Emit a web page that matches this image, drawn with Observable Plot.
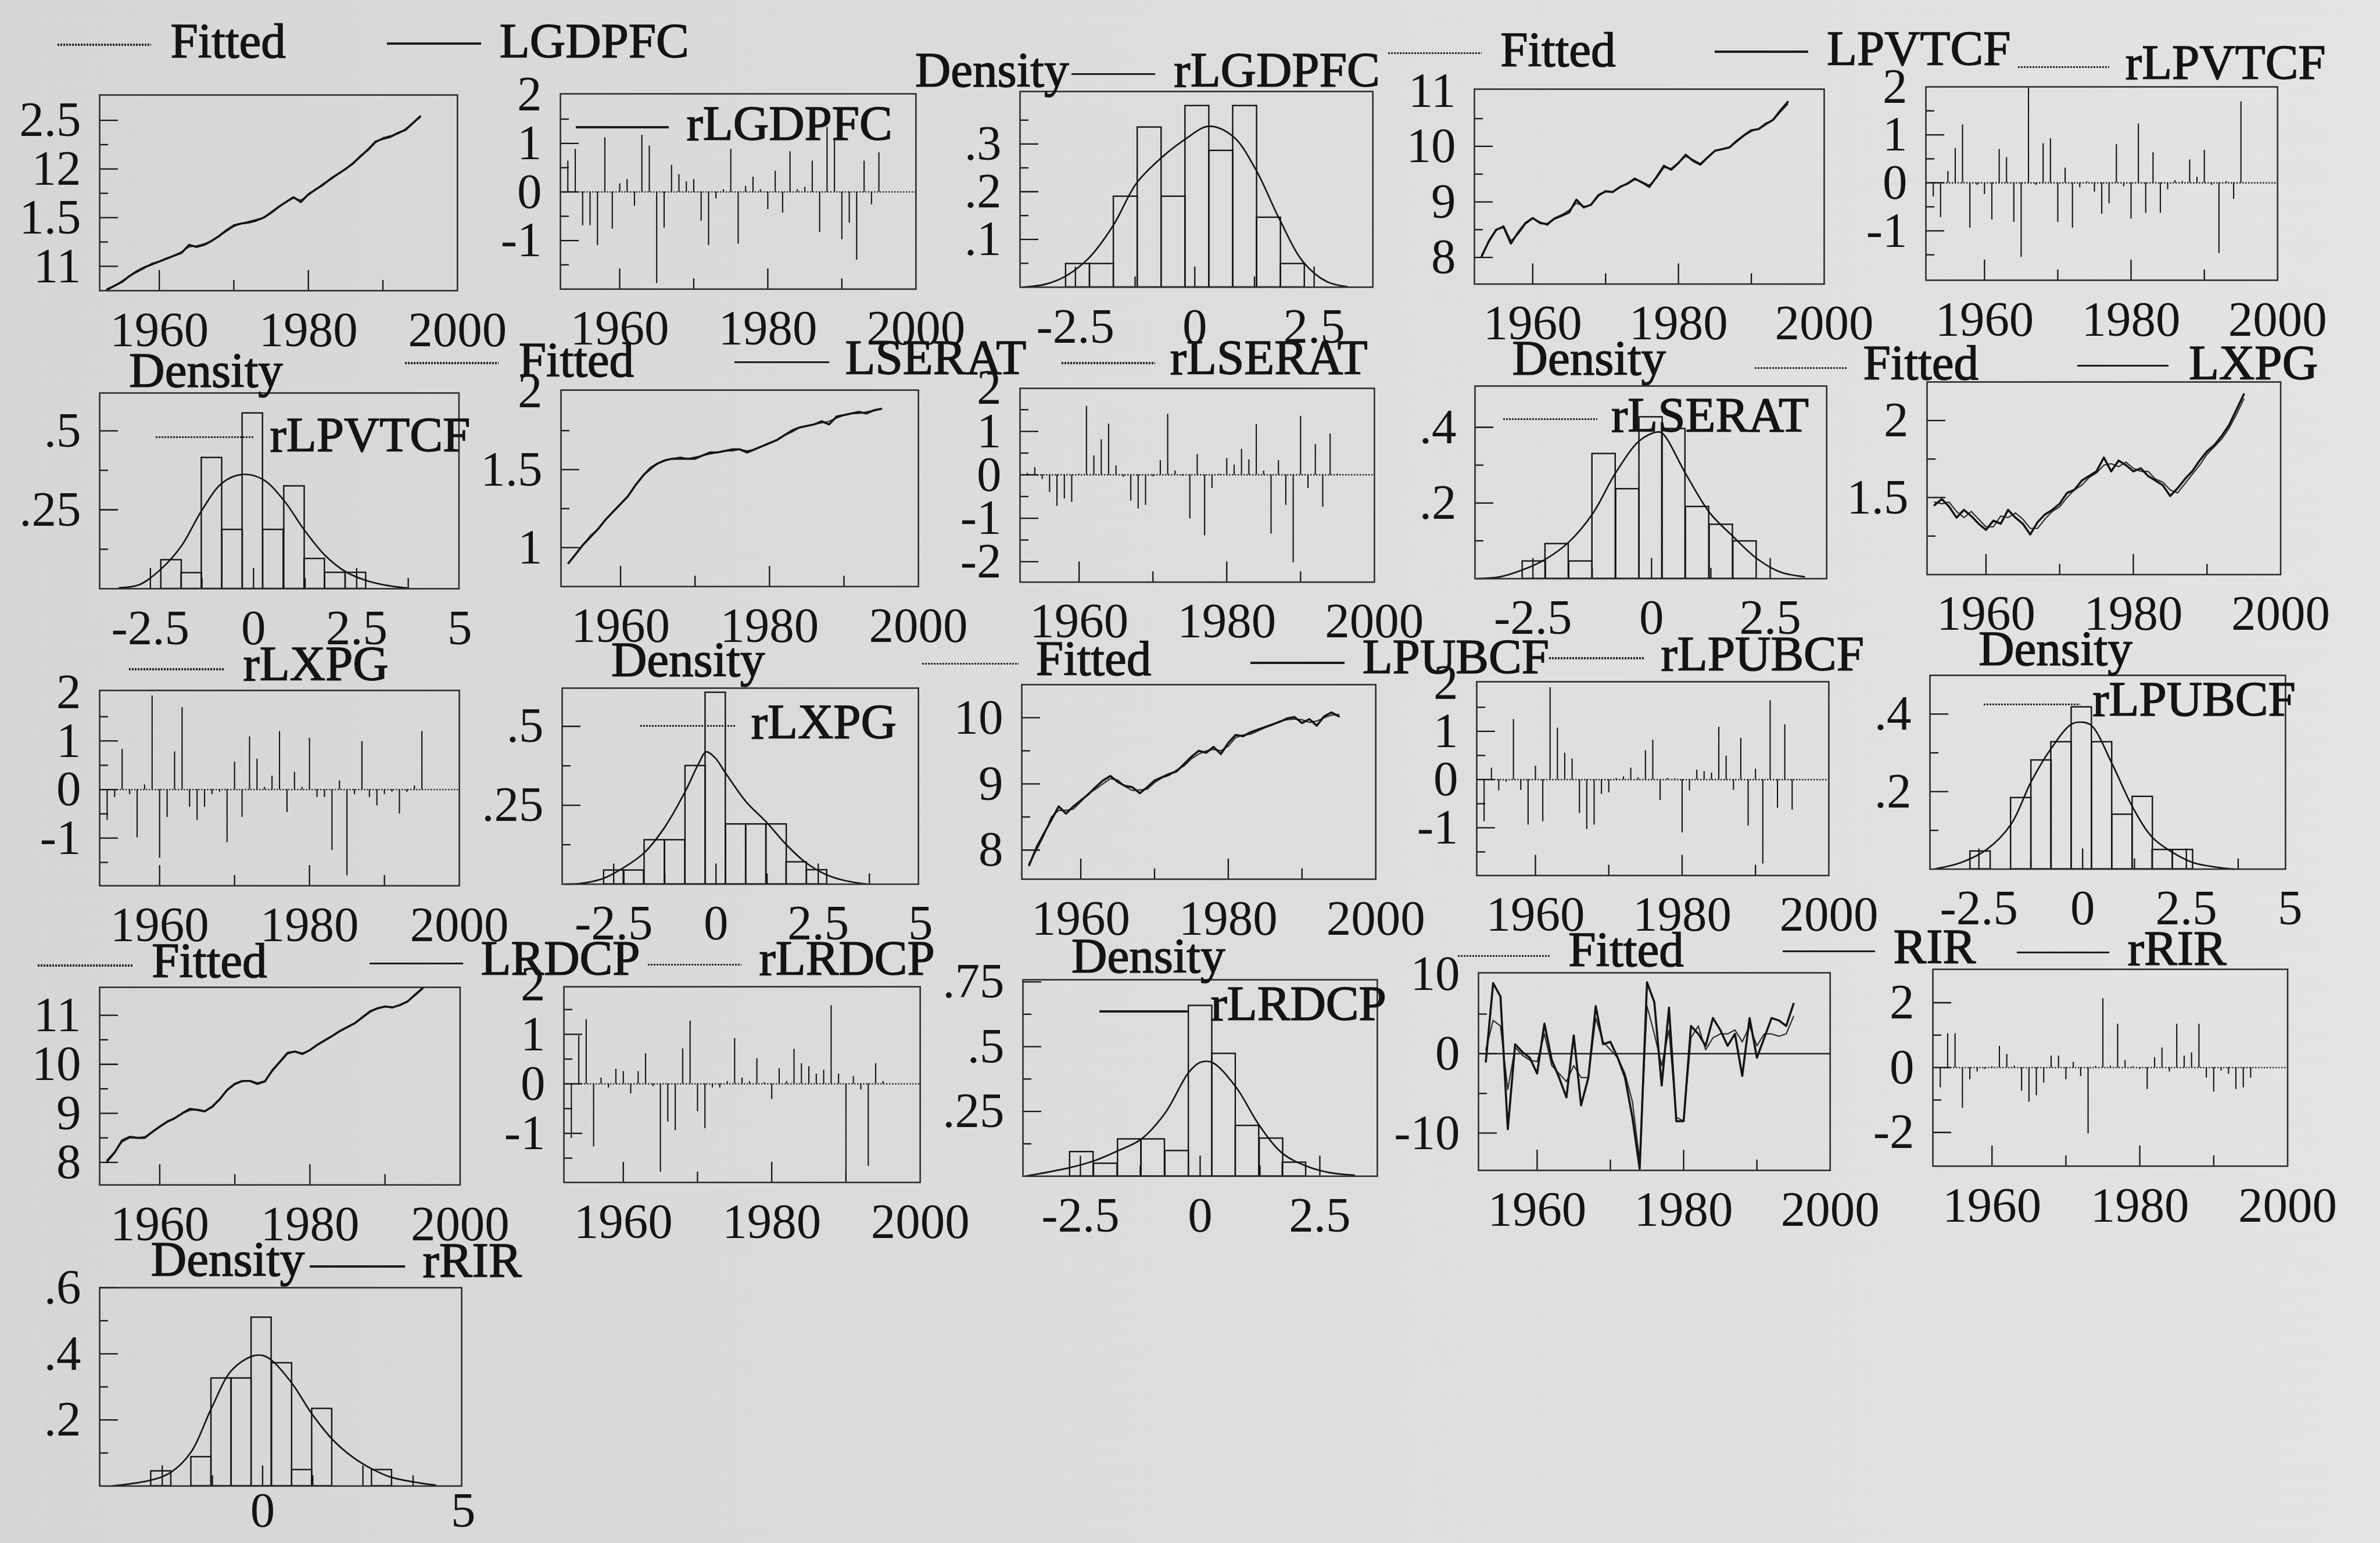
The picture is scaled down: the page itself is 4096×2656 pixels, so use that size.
<!DOCTYPE html>
<html><head><meta charset="utf-8">
<script src="https://cdn.jsdelivr.net/npm/d3@7"></script>
<script src="https://cdn.jsdelivr.net/npm/@observablehq/plot@0.6"></script>
<style>
html,body{margin:0;padding:0;background:#dcdcdc;}
#page{position:relative;width:4096px;height:2656px;overflow:hidden;
  background:linear-gradient(90deg,#d6d6d6 0%,#dddddd 50%,#e3e3e3 100%);
  font-family:"Liberation Serif","Times New Roman",serif;color:#141414;}
.panel{position:absolute;}
.panel svg{overflow:visible;display:block;}
.lg{position:absolute;font-size:85px;line-height:85px;white-space:nowrap;color:#141414;-webkit-text-stroke:1.6px #141414;}
.ln{position:absolute;}
</style></head><body><div id="page"></div><script>
// ---------------- data ----------------
const years = [1953,1954,1955,1956,1957,1958,1959,1960,1961,1962,1963,1964,1965,1966,1967,1968,1969,1970,1971,1972,1973,1974,1975,1976,1977,1978,1979,1980,1981,1982,1983,1984,1985,1986,1987,1988,1989,1990,1991,1992,1993,1994,1995];

const LGDPFC    = [10.76,10.80,10.84,10.90,10.95,10.99,11.02,11.05,11.08,11.11,11.14,11.22,11.20,11.22,11.26,11.31,11.37,11.42,11.44,11.45,11.47,11.50,11.55,11.61,11.66,11.71,11.66,11.74,11.79,11.84,11.90,11.95,12.00,12.06,12.13,12.20,12.28,12.31,12.33,12.37,12.40,12.47,12.54];
const fitLGDPFC = [10.77,10.80,10.85,10.90,10.94,10.98,11.03,11.05,11.08,11.11,11.15,11.20,11.21,11.23,11.26,11.31,11.36,11.41,11.44,11.46,11.48,11.50,11.56,11.61,11.66,11.70,11.68,11.73,11.79,11.85,11.89,11.95,12.00,12.05,12.14,12.19,12.27,12.32,12.34,12.36,12.41,12.47,12.53];
const rLGDPFC   = [0.64,0.88,-0.69,-0.69,-1.10,1.12,-0.76,0.17,0.26,-0.29,1.17,0.95,-1.88,-0.74,0.55,0.36,0.21,0.26,-0.60,-1.10,-0.14,0.05,0.88,-1.07,0.12,0.31,0.05,-0.36,0.43,-0.43,0.83,0.05,0.10,0.64,-0.83,1.33,1.07,-0.98,-0.64,-1.40,0.64,-0.26,0.81];

const LPVTCF    = [8.02,8.30,8.50,8.55,8.25,8.45,8.62,8.71,8.62,8.60,8.70,8.75,8.81,9.04,8.90,8.95,9.12,9.19,9.18,9.27,9.33,9.42,9.35,9.27,9.45,9.65,9.58,9.70,9.85,9.74,9.67,9.80,9.92,9.95,9.98,10.10,10.20,10.29,10.31,10.40,10.48,10.65,10.80];
const fitLPVTCF = [8.05,8.28,8.49,8.57,8.30,8.42,8.60,8.70,8.64,8.58,8.71,8.77,8.85,8.98,8.92,8.94,9.10,9.20,9.17,9.28,9.32,9.40,9.36,9.30,9.43,9.62,9.60,9.71,9.82,9.76,9.69,9.81,9.92,9.95,9.99,10.08,10.19,10.27,10.32,10.42,10.47,10.62,10.76];
const rLPVTCF   = [-0.29,-0.72,0.24,0.72,1.21,-0.94,-0.05,-0.24,-0.77,0.70,0.53,-0.82,-1.55,1.99,-0.05,0.82,0.92,-0.82,0.31,-0.94,-0.10,0.02,-0.19,-0.65,-0.43,0.80,-0.08,-0.75,1.23,-0.63,0.63,-0.63,-0.14,0.05,0.03,0.48,0.12,0.68,-0.05,-1.47,0.03,-0.34,1.69];

const LSERAT    = [0.90,0.96,1.02,1.07,1.12,1.18,1.23,1.28,1.33,1.40,1.46,1.51,1.54,1.56,1.57,1.57,1.57,1.57,1.59,1.61,1.61,1.62,1.63,1.63,1.61,1.63,1.65,1.67,1.69,1.72,1.75,1.77,1.78,1.79,1.81,1.79,1.84,1.85,1.86,1.87,1.86,1.88,1.89];
const fitLSERAT = [0.90,0.96,1.02,1.08,1.12,1.18,1.23,1.28,1.33,1.40,1.46,1.50,1.54,1.56,1.57,1.58,1.57,1.58,1.59,1.60,1.61,1.62,1.62,1.63,1.62,1.63,1.65,1.67,1.69,1.72,1.74,1.77,1.78,1.79,1.80,1.81,1.83,1.85,1.86,1.86,1.87,1.88,1.89];
const rLSERAT   = [0.04,0.17,-0.10,-0.40,-0.72,-0.55,-0.63,0.02,1.58,0.44,0.81,1.17,0.21,-0.05,-0.60,-0.78,-0.70,-0.04,0.33,1.40,0.09,-0.03,-1.01,0.47,-1.40,-0.31,0.02,0.38,0.23,0.59,0.35,1.16,0.09,-1.36,0.33,-0.70,-2.02,1.35,-0.31,0.70,-0.74,0.94,0.02];

const LXPG      = [1.45,1.49,1.44,1.37,1.42,1.38,1.33,1.29,1.35,1.33,1.42,1.37,1.33,1.26,1.34,1.39,1.42,1.46,1.53,1.55,1.61,1.64,1.67,1.76,1.67,1.74,1.71,1.67,1.69,1.64,1.61,1.58,1.51,1.56,1.62,1.67,1.74,1.80,1.84,1.90,1.97,2.07,2.17];
const fitLXPG   = [1.47,1.46,1.47,1.41,1.37,1.41,1.36,1.31,1.31,1.38,1.37,1.40,1.36,1.30,1.30,1.36,1.41,1.44,1.50,1.55,1.58,1.63,1.66,1.71,1.72,1.70,1.73,1.69,1.67,1.67,1.62,1.60,1.55,1.53,1.59,1.65,1.71,1.78,1.83,1.88,1.95,2.04,2.14];
const rLXPG     = [-0.63,-0.16,0.83,-0.10,-0.99,0.10,1.93,-1.41,-0.57,0.78,1.69,-0.36,-0.63,-0.36,-0.10,-0.05,-1.09,0.57,-0.57,1.09,0.63,0.05,0.28,1.20,-0.47,0.36,0.05,1.06,-0.16,-0.16,-1.25,0.18,-1.77,-0.10,0.99,-0.16,-0.33,-0.10,-0.05,-0.50,-0.05,0.08,1.20];

const LPUBCF    = [7.77,8.04,8.25,8.45,8.66,8.55,8.66,8.75,8.84,8.95,9.05,9.12,9.03,8.97,8.95,8.86,8.95,9.05,9.10,9.15,9.19,9.30,9.41,9.50,9.47,9.56,9.45,9.62,9.74,9.72,9.78,9.82,9.86,9.90,9.94,9.99,10.01,9.92,9.98,9.88,10.02,10.08,10.02];
const fitLPUBCF = [7.80,8.00,8.22,8.50,8.60,8.60,8.62,8.73,8.85,8.92,9.00,9.08,9.06,8.96,8.90,8.91,8.92,9.02,9.09,9.13,9.21,9.27,9.38,9.45,9.50,9.52,9.50,9.57,9.70,9.74,9.75,9.80,9.85,9.89,9.95,9.97,9.98,9.97,9.93,9.95,10.00,10.04,10.05];
const rLPUBCF   = [-0.87,0.24,-0.23,-0.05,1.25,-0.22,-0.94,0.28,-0.87,1.91,1.07,0.55,0.43,-0.70,-1.03,-0.94,-0.30,-0.27,0.03,0.06,0.24,0.04,0.60,0.82,-0.43,0.03,0.02,-1.10,-0.23,0.20,0.17,0.14,1.09,0.49,-0.22,0.86,-0.96,0.22,-1.75,1.64,-0.59,1.14,-0.63];

const LRDCP     = [8.02,8.20,8.45,8.52,8.50,8.50,8.62,8.73,8.83,8.90,9.00,9.09,9.07,9.04,9.14,9.29,9.48,9.60,9.66,9.66,9.60,9.65,9.88,10.05,10.23,10.26,10.21,10.29,10.40,10.49,10.58,10.68,10.76,10.84,10.96,11.08,11.14,11.18,11.16,11.21,11.28,11.42,11.55];
const fitLRDCP  = [8.05,8.22,8.42,8.50,8.50,8.52,8.61,8.72,8.82,8.91,9.00,9.06,9.08,9.05,9.12,9.28,9.47,9.59,9.65,9.67,9.62,9.66,9.86,10.04,10.21,10.26,10.23,10.29,10.39,10.49,10.58,10.67,10.76,10.84,10.95,11.06,11.15,11.17,11.17,11.20,11.29,11.40,11.54];
const rLRDCP    = [-1.10,0.97,1.30,-1.27,0.12,-0.08,0.30,0.25,-0.20,0.25,0.61,-0.05,-1.78,-0.77,-0.94,0.71,1.27,-0.56,-0.90,-0.08,-0.08,0.05,0.92,0.12,0.05,0.51,0.03,-0.31,0.31,0.05,0.70,0.41,0.35,0.20,0.28,1.58,0.20,-1.94,0.15,-0.12,-1.66,0.41,0.05];

const RIR       = [-1.0,8.9,7.2,-9.5,1.2,0.2,-0.5,-2.5,3.8,-0.8,-3.0,-5.5,2.3,-6.5,-3.0,6.0,1.2,1.5,-0.5,-3.0,-8.0,-14.5,9.0,6.5,-4.0,5.8,-8.5,-8.5,3.5,2.5,1.0,4.5,3.0,1.0,2.5,-2.8,4.5,-0.5,2.0,4.5,4.2,3.5,6.3];
const fitRIR    = [0.5,4.2,3.5,-4.5,0.8,-0.2,-0.8,-1.0,2.5,-1.5,-2.5,-3.5,-1.5,-3.0,-3.0,4.5,1.5,0.5,-0.5,-2.5,-6.0,-13.5,6.0,2.5,-1.5,3.0,-8.0,-8.5,2.0,3.5,0.5,2.0,2.5,2.5,3.0,1.5,3.5,1.0,2.5,2.5,2.2,2.5,4.7];
const rRIR      = [-0.62,1.05,1.05,-1.25,-0.37,-0.13,-0.05,0.03,0.66,0.41,0.05,-0.72,-1.06,-0.86,-0.47,0.36,0.36,-0.37,0.17,-0.27,-2.04,0.04,2.13,0.05,1.34,0.22,0.03,-0.05,-0.67,0.31,0.61,-0.13,1.34,0.36,0.46,1.34,-0.32,-0.75,-0.10,-0.20,-0.67,-0.62,-0.32];

// histograms (bin left edges, bin heights) and density curves (x, y)
const binLGDPFC_x = [-2.7,-2.2,-1.7,-1.2,-0.7,-0.2,0.3,0.8,1.3,1.8];
const binLGDPFC_h = [0.049,0.049,0.19,0.335,0.19,0.38,0.286,0.38,0.146,0.049];
const kdeLGDPFC_x = [-3.6,-3.1,-2.69,-2.2,-1.71,-1.22,-0.69,-0.2,0.29,0.8,1.27,1.78,2.27,2.76,3.2];
const kdeLGDPFC_y = [0,0.007,0.024,0.063,0.129,0.218,0.272,0.31,0.337,0.316,0.248,0.141,0.053,0.012,0.001];

const binLPVTCF_x = [-2.24,-1.75,-1.26,-0.76,-0.27,0.23,0.74,1.23,1.73,2.23];
const binLPVTCF_h = [0.091,0.05,0.415,0.187,0.556,0.187,0.325,0.095,0.051,0.051];
const kdeLPVTCF_x = [-3.25,-2.76,-2.24,-1.75,-1.26,-0.76,-0.27,0.23,0.74,1.23,1.73,2.23,2.73,3.25,3.74];
const kdeLPVTCF_y = [0.003,0.013,0.0625,0.135,0.247,0.335,0.362,0.346,0.279,0.186,0.106,0.054,0.026,0.01,0.002];

const binLSERAT_x = [-2.72,-2.24,-1.74,-1.25,-0.75,-0.26,0.22,0.72,1.22,1.72];
const binLSERAT_h = [0.046,0.092,0.046,0.33,0.237,0.427,0.396,0.19,0.143,0.099];
const kdeLSERAT_x = [-3.68,-3.19,-2.72,-2.24,-1.74,-1.25,-0.75,-0.26,0.09,0.22,0.72,1.22,1.72,2.2,2.7,3.22];
const kdeLSERAT_y = [0,0.005,0.023,0.051,0.097,0.17,0.281,0.364,0.387,0.385,0.277,0.175,0.111,0.055,0.018,0.005];

const binLXPG_x = [-2.74,-2.26,-1.75,-1.25,-0.75,-0.26,0.24,0.73,1.23,1.72,2.22];
const binLXPG_h = [0.044,0.044,0.14,0.14,0.375,0.607,0.19,0.19,0.19,0.07,0.045];
const kdeLXPG_x = [-3.7,-3.27,-2.74,-2.26,-1.75,-1.25,-0.75,-0.42,-0.24,-0.02,0.24,0.73,1.23,1.72,2.2,2.7,3.2,3.7];
const kdeLXPG_y = [0,0.003,0.019,0.052,0.1,0.181,0.294,0.383,0.419,0.4,0.351,0.262,0.197,0.125,0.068,0.03,0.01,0];

const binLPUBCF_x = [-2.71,-1.73,-1.24,-0.76,-0.27,0.22,0.71,1.2,1.68,2.17];
const binLPUBCF_h = [0.046,0.184,0.281,0.328,0.418,0.328,0.141,0.187,0.05,0.05];
const kdeLPUBCF_x = [-3.54,-2.93,-2.32,-1.73,-1.24,-0.76,-0.27,0,0.22,0.71,1.2,1.68,2.17,2.66,3.29,3.66];
const kdeLPUBCF_y = [0.001,0.017,0.05,0.115,0.226,0.311,0.374,0.379,0.37,0.272,0.161,0.082,0.043,0.017,0.004,0];

const binLRDCP_x = [-2.72,-2.22,-1.72,-1.23,-0.73,-0.24,0.25,0.74,1.24,1.72];
const binLRDCP_h = [0.094,0.049,0.143,0.143,0.098,0.658,0.473,0.195,0.146,0.053];
const kdeLRDCP_x = [-3.65,-2.72,-2.22,-1.72,-1.23,-0.73,-0.24,0,0.25,0.74,1.24,1.72,2.22,2.7,3.22];
const kdeLRDCP_y = [0,0.033,0.059,0.098,0.143,0.244,0.4,0.439,0.439,0.346,0.195,0.088,0.039,0.014,0.004];

const binRIR_x = [-2.78,-1.78,-1.28,-0.78,-0.28,0.23,0.73,1.23,2.72];
const binRIR_h = [0.045,0.088,0.326,0.326,0.51,0.372,0.049,0.234,0.049];
const kdeRIR_x = [-3.75,-2.78,-2.28,-1.78,-1.28,-0.78,-0.28,0,0.23,0.73,1.23,1.74,2.24,2.72,3.22,3.93,4.31];
const kdeRIR_y = [0,0.018,0.042,0.103,0.234,0.349,0.392,0.395,0.38,0.311,0.218,0.141,0.088,0.052,0.026,0.009,0.003];

// tick labels
const yearLabels = [1960,1980,2000];
const yearMajor = [1960,1980];
const yearMinor = [1970,1990];
const residLabels = [-1,0,1,2];
const residLabels5 = [-2,-1,0,1,2];
const lgdpfcTickVals = [11,11.5,12,12.5];
const lgdpfcTickText = ["11","1.5","12","2.5"];

// ---------------- layout helpers ----------------
const K = 4096/6226;
const FS = 85;
const FF = "Liberation Serif";
const INK = "#141414";
const page = document.getElementById("page");

const fmt = d => String(d).replace(/^0\./,".").replace(/^-0\./,"-.");
const series = vals => vals.map((v,i)=>({year: years[i], v}));
const pairs = (xs, ys) => xs.map((x,i)=>({x, y: ys[i]}));
const bins = (xs, hs, w) => xs.map((a,i)=>({a, b: a+w, h: hs[i]}));

function panel(frame, o){
  const [L,T,R,B] = frame;
  const W = (R-L)*K, H = (B-T)*K;
  const ml=170, mr=130, mt=70, mb=170;
  const tk = {stroke: INK, strokeWidth: 2.3};
  const txt = {fontSize: FS, fontFamily: FF, fill: INK, stroke: INK, strokeWidth: 2.2, label: null};
  const marks = [
    ...o.marks,
    Plot.tickY(o.yMaj, {y: d=>d, insetRight: W-32, ...tk}),
    Plot.tickY(o.yMin || [], {y: d=>d, insetRight: W-15, ...tk}),
    Plot.tickX(o.xMaj, {x: d=>d, insetTop: H-35, ...tk}),
    Plot.tickX(o.xMin || [], {x: d=>d, insetTop: H-18, ...tk}),
    Plot.frame({stroke: "#2e2e2e", strokeWidth: 2.6}),
    Plot.axisY(o.yLab, {tickSize: 0, tickPadding: 32, tickFormat: o.yFmt || fmt, ...txt}),
    Plot.axisX(o.xLab, {tickSize: 0, tickPadding: o.xPad ?? 35, tickFormat: o.xFmt || fmt, ...txt})
  ];
  const svg = Plot.plot({
    width: W+ml+mr, height: H+mt+mb,
    marginLeft: ml, marginRight: mr, marginTop: mt, marginBottom: mb,
    x: {domain: o.xd}, y: {domain: o.yd},
    style: {fontFamily: FF, fontSize: FS+"px", color: INK, background: "transparent", maxWidth: "none", overflow: "visible"},
    marks
  });
  const div = document.createElement("div");
  div.className = "panel";
  div.style.left = (L*K-ml)+"px";
  div.style.top = (T*K-mt)+"px";
  div.style.width = (W+ml+mr)+"px";
  div.style.height = (H+mt+mb)+"px";
  div.appendChild(svg);
  page.appendChild(div);
}

function tsPanel(frame, actual, fitted, yd, yLab, yMaj, yMin, extra){
  const marks = [];
  if (extra) marks.push(extra);
  marks.push(Plot.line(series(fitted), {x: "year", y: "v", stroke: "#2a2a2a", strokeWidth: 2.2, strokeDasharray: "4,1.5"}));
  marks.push(Plot.line(series(actual), {x: "year", y: "v", stroke: INK, strokeWidth: 3.6, strokeLinejoin: "round"}));
  return {frame, o: {marks, xd: [1952,2000], yd, yLab, yMaj, yMin, xLab: yearLabels, xMaj: yearMajor, xMin: yearMinor, xFmt: d=>String(d)}};
}
function residPanel(frame, vals, yd, yLab, yMaj, yMin){
  const marks = [
    Plot.ruleY([0], {stroke: "#222", strokeWidth: 2.4, strokeDasharray: "2.5,2.5"}),
    Plot.ruleX(series(vals), {x: "year", y1: 0, y2: "v", stroke: INK, strokeWidth: 2.1})
  ];
  return {frame, o: {marks, xd: [1952,2000], yd, yLab, yMaj, yMin, xLab: yearLabels, xMaj: yearMajor, xMin: yearMinor, xFmt: d=>String(d)}};
}
function densPanel(frame, bx, bh, w, kx, ky, xd, yd, yLab, yMin, xLab, xMaj, xMin){
  const marks = [
    Plot.rect(bins(bx, bh, w), {x1: "a", x2: "b", y1: 0, y2: "h", fill: "none", stroke: INK, strokeWidth: 2.4}),
    Plot.line(pairs(kx, ky), {x: "x", y: "y", curve: "catmull-rom", stroke: INK, strokeWidth: 2.7})
  ];
  return {frame, o: {marks, xd, yd, yLab, yMaj: yLab, yMin, xLab, xMaj, xMin}};
}

const p1 = tsPanel([260,248,1196,760], LGDPFC, fitLGDPFC, [10.75,12.76], lgdpfcTickVals, [11,11.5,12,12.5], [11.25,11.75,12.25]);
p1.o.yFmt = d => lgdpfcTickText[lgdpfcTickVals.indexOf(d)];
const p21 = densPanel([260,3368,1207,3887], binRIR_x, binRIR_h, 0.5, kdeRIR_x, kdeRIR_y, [-4.06,4.96], [0,0.6],
            [0.2,0.4,0.6], [0.1,0.3,0.5], [0,5], [-2.5,0,2.5], [-1.25,1.25,3.75]);
p21.o.xPad = 10;

const panels = [
  // row 1
  p1,
  residPanel([1466,245,2396,756], rLGDPFC, [-2.0,2.02], residLabels, [-1,0,1], [-1.5,-0.5,0.5,1.5]),
  densPanel([2668,239,3591,751], binLGDPFC_x, binLGDPFC_h, 0.5, kdeLGDPFC_x, kdeLGDPFC_y, [-3.66,3.73], [0,0.41],
            [0.1,0.2,0.3], [0.05,0.15,0.25,0.35], [-2.5,0,2.5], [-2.5,0,2.5], [-1.25,1.25]),
  tsPanel([3857,232,4772,742], LPVTCF, fitLPVTCF, [7.52,11.03], [8,9,10,11], [8,9,10], [8.5,9.5,10.5]),
  residPanel([5038,227,5958,733], rLPVTCF, [-2.03,2.0], residLabels, [-1,0,1], [-1.5,-0.5,0.5,1.5]),
  // row 2
  densPanel([260,1027,1200,1539], binLPVTCF_x, binLPVTCF_h, 0.495, kdeLPVTCF_x, kdeLPVTCF_y, [-3.73,4.98], [0,0.62],
            [0.25,0.5], [0.125,0.375], [-2.5,0,2.5,5], [-2.5,0,2.5], [-1.25,1.25,3.75]),
  tsPanel([1467,1020,2402,1534], LSERAT, fitLSERAT, [0.75,2.01], [1,1.5,2], [1,1.5], [1.25,1.75]),
  residPanel([2667,1015,3594,1522], rLSERAT, [-2.47,1.99], residLabels5, [-2,-1,0,1], [-1.5,-0.5,0.5,1.5]),
  densPanel([3858,1010,4778,1514], binLSERAT_x, binLSERAT_h, 0.49, kdeLSERAT_x, kdeLSERAT_y, [-3.72,3.69], [0,0.509],
            [0.2,0.4], [0.1,0.3], [-2.5,0,2.5], [-2.5,0,2.5], [-1.25,1.25]),
  tsPanel([5041,998,5966,1502], LXPG, fitLXPG, [1.0,2.25], [1.5,2], [1.5,2], [1.25,1.75]),
  // row 3
  residPanel([260,1806,1201,2317], rLXPG, [-1.98,2.04], residLabels, [-1,0,1], [-1.5,-0.5,0.5,1.5]),
  densPanel([1470,1800,2402,2313], binLXPG_x, binLXPG_h, 0.495, kdeLXPG_x, kdeLXPG_y, [-3.76,4.95], [0,0.621],
            [0.25,0.5], [0.125,0.375], [-2.5,0,2.5,5], [-2.5,0,2.5], [-1.25,1.25,3.75]),
  tsPanel([2672,1790,3598,2299], LPUBCF, fitLPUBCF, [7.56,10.5], [8,9,10], [8,9,10], [8.5,9.5]),
  residPanel([3862,1783,4783,2290], rLPUBCF, [-1.99,2.03], residLabels, [-1,0,1], [-1.5,-0.5,0.5,1.5]),
  densPanel([5048,1767,5978,2274], binLPUBCF_x, binLPUBCF_h, 0.488, kdeLPUBCF_x, kdeLPUBCF_y, [-3.68,4.89], [0,0.5],
            [0.2,0.4], [0.1,0.3], [-2.5,0,2.5,5], [-2.5,0,2.5], [-1.25,1.25,3.75]),
  // row 4
  tsPanel([260,2583,1203,3100], LRDCP, fitLRDCP, [7.54,11.57], [8,9,10,11], [8,9,10,11], [8.5,9.5,10.5]),
  residPanel([1474,2581,2406,3093], rLRDCP, [-1.99,1.96], residLabels, [-1,0,1], [-1.5,-0.5,0.5,1.5]),
  densPanel([2675,2563,3602,3077], binLRDCP_x, binLRDCP_h, 0.49, kdeLRDCP_x, kdeLRDCP_y, [-3.7,3.7], [0,0.758],
            [0.25,0.5,0.75], [0.125,0.375,0.625], [-2.5,0,2.5], [-2.5,0,2.5], [-1.25,1.25]),
  tsPanel([3867,2545,4787,3062], RIR, fitRIR, [-14.7,10.2], [-10,0,10], [-10,0], [-5,5],
          Plot.ruleY([0], {stroke: "#222", strokeWidth: 2.4})),
  residPanel([5056,2535,5984,3050], rRIR, [-3.04,3.03], [-2,0,2], [-2,0,2], [-1,1]),
  // row 5
  p21
];
panels.forEach(p => panel(p.frame, p.o));

// ---------------- legends (line sample + text) ----------------
function legLine(kind, x1, x2, y){
  const d = document.createElement("div");
  d.className = "ln";
  d.style.left = (x1*K)+"px";
  d.style.width = ((x2-x1)*K)+"px";
  if (kind === "solid"){
    d.style.top = (y*K-1.8)+"px"; d.style.height = "3.6px"; d.style.background = "#1c1c1c";
  } else {
    d.style.top = (y*K-1.7)+"px"; d.style.height = "3.4px";
    d.style.background = "repeating-linear-gradient(90deg,#262626 0 3px,transparent 3px 5px)";
  }
  page.appendChild(d);
}
function legText(t, x, base){
  const d = document.createElement("div");
  d.className = "lg";
  d.textContent = t;
  d.style.left = (x*K)+"px";
  d.style.top = (base*K-71)+"px";
  page.appendChild(d);
}
const legends = [
  ["dot",151,395,117,"Fitted",446,151], ["solid",1012,1259,114,"LGDPFC",1307,151],
  ["solid",1506,1749,333,"rLGDPFC",1796,367],
  [null,0,0,0,"Density",2394,227], ["solid",2803,3022,194,"rLGDPFC",3071,227],
  ["dot",3632,3876,139,"Fitted",3925,173], ["solid",4486,4730,135,"LPVTCF",4779,170],
  ["dot",5279,5518,176,"rLPVTCF",5560,206],

  [null,0,0,0,"Density",338,1012], ["dot",408,662,1144,"rLPVTCF",706,1181],
  ["dot",1059,1304,950,"Fitted",1357,985], ["solid",1922,2169,948,"LSERAT",2211,979],
  ["dot",2777,3022,950,"rLSERAT",3061,979],
  [null,0,0,0,"Density",3956,980], ["dot",3933,4178,1097,"rLSERAT",4215,1130],
  ["dot",4590,4830,963,"Fitted",4874,993], ["solid",5434,5673,957,"LXPG",5726,993],

  ["dot",338,589,1751,"rLXPG",636,1780],
  [null,0,0,0,"Density",1599,1769], ["dot",1675,1926,1899,"rLXPG",1965,1932],
  ["dot",2413,2664,1737,"Fitted",2710,1767], ["solid",3271,3518,1734,"LPUBCF",3564,1761],
  ["dot",4053,4303,1722,"rLPUBCF",4345,1754],
  [null,0,0,0,"Density",5176,1741], ["dot",5189,5441,1843,"rLPUBCF",5474,1873],

  ["dot",99,347,2526,"Fitted",397,2557], ["solid",967,1211,2521,"LRDCP",1258,2550],
  ["dot",1695,1940,2524,"rLRDCP",1986,2550],
  [null,0,0,0,"Density",2803,2544], ["solid",2876,3108,2646,"rLRDCP",3167,2669],
  ["dot",3813,4054,2501,"Fitted",4103,2528], ["solid",4663,4905,2489,"RIR",4953,2520],
  ["solid",5276,5517,2492,"rRIR",5566,2524],

  [null,0,0,0,"Density",395,3338], ["solid",810,1059,3314,"rRIR",1106,3341]
];
legends.forEach(([kind,x1,x2,y,t,tx,ty]) => {
  if (kind) legLine(kind, x1, x2, y);
  legText(t, tx, ty);
});
</script></body></html>
